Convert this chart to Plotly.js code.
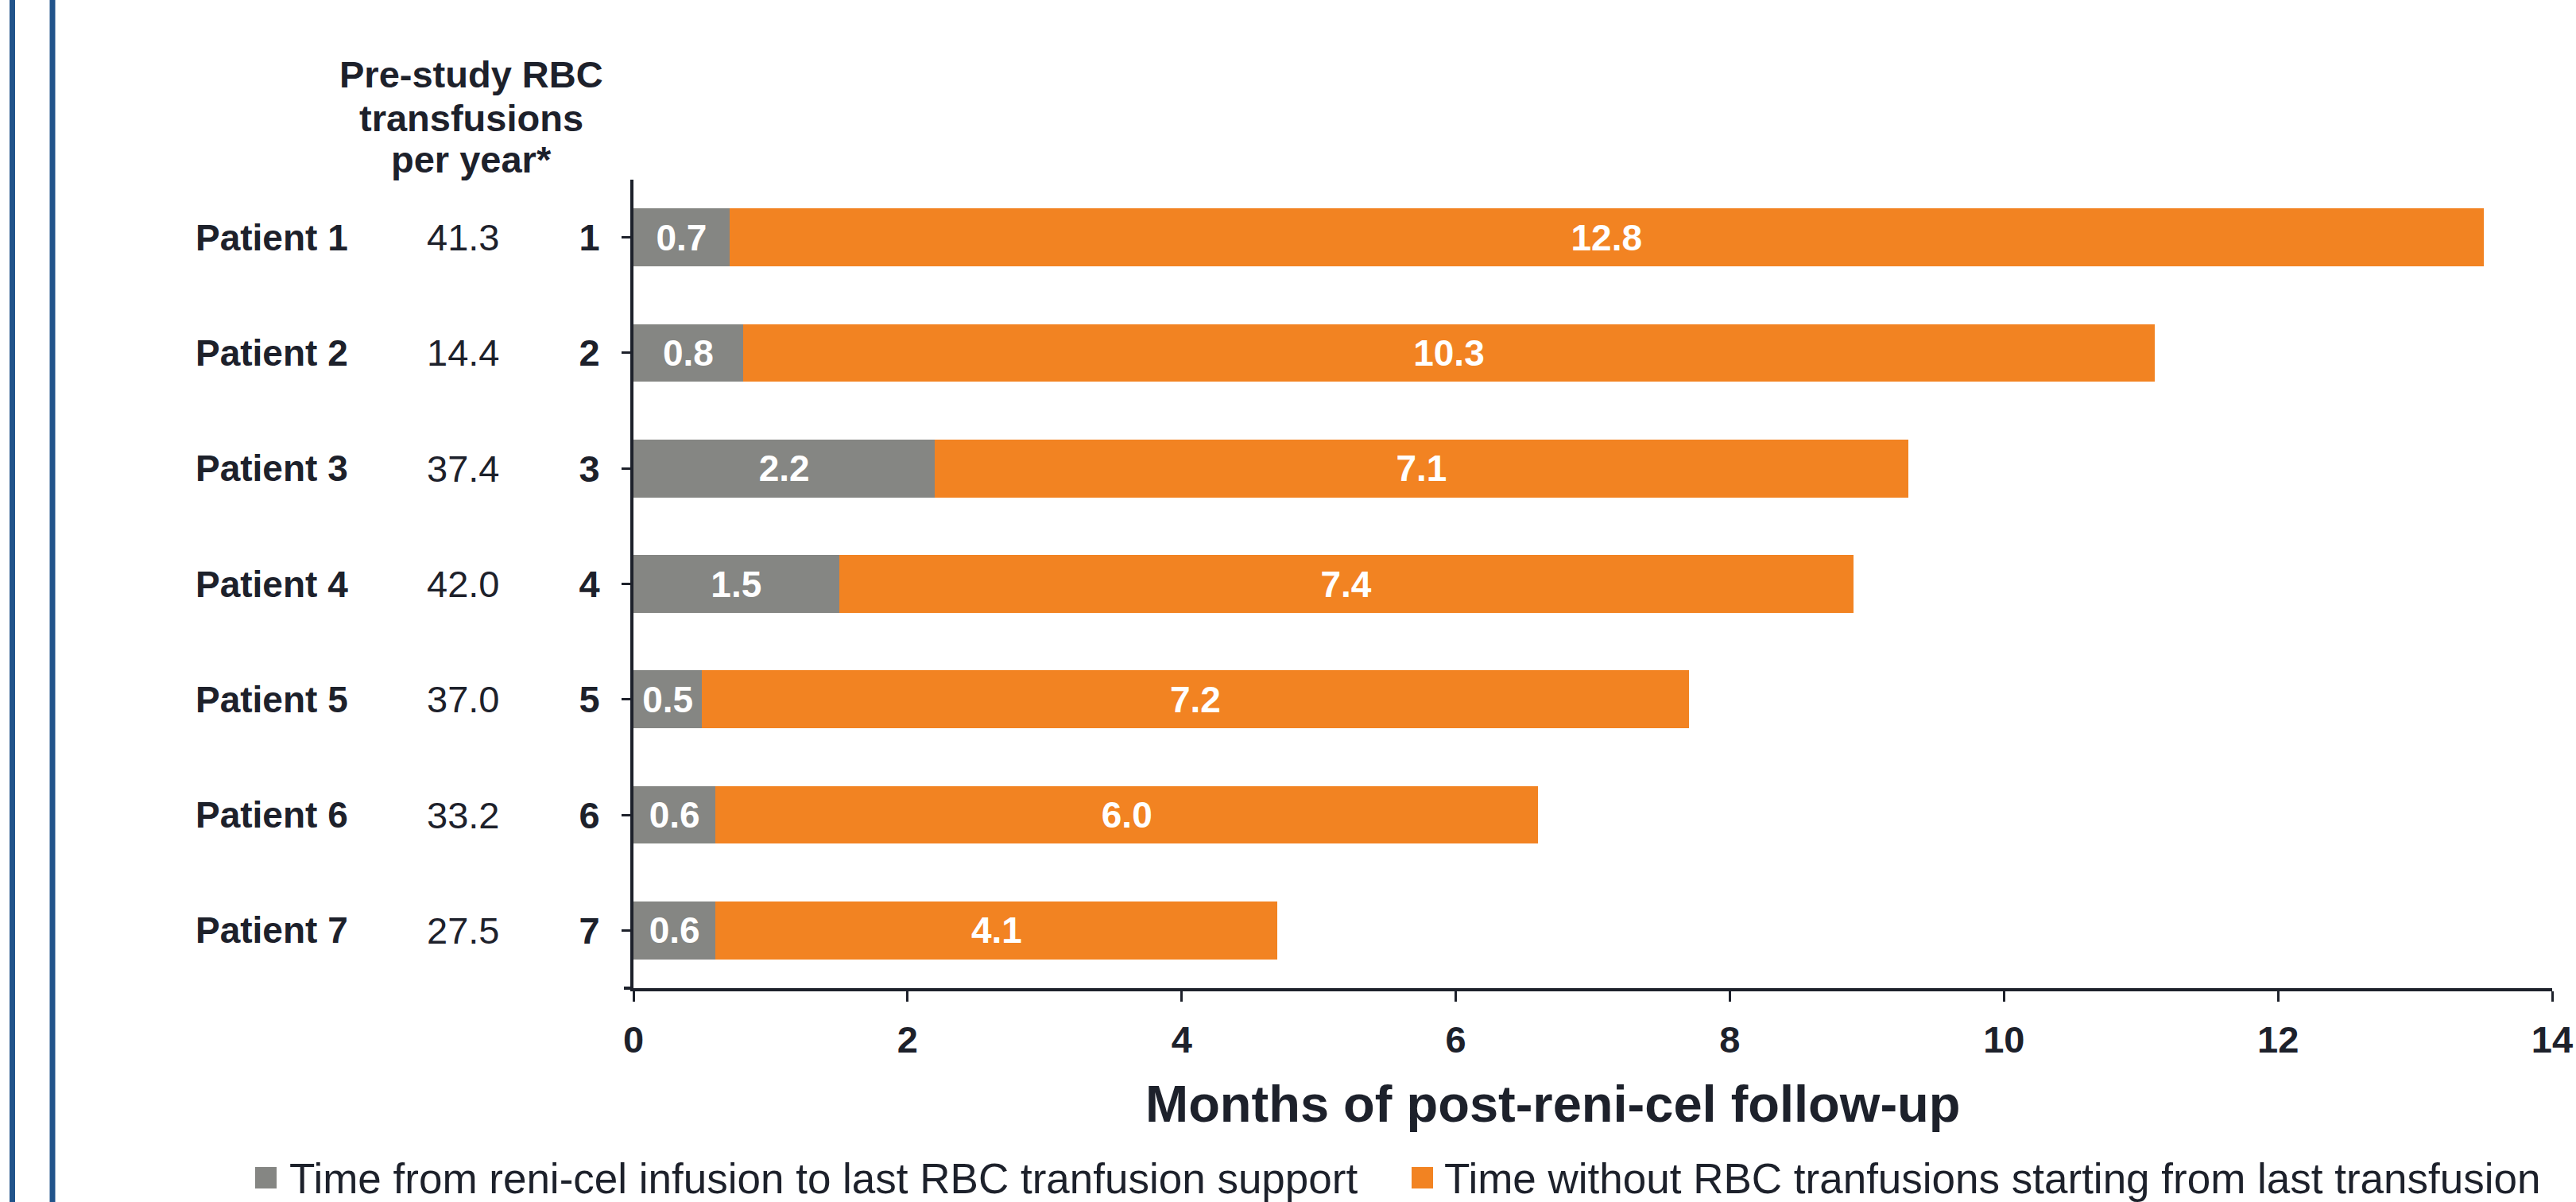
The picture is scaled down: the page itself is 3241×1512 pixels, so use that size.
<!DOCTYPE html>
<html>
<head>
<meta charset="utf-8">
<script src="https://cdn.plot.ly/plotly-3.0.1.min.js"></script>
<style>
  html, body { margin: 0; padding: 0; background: #ffffff; }
  #chart { width: 3241px; height: 1512px; }
</style>
</head>
<body>
<div id="chart"></div>
<script>
// ---------------- data ----------------
const patientIds = ['1', '2', '3', '4', '5', '6', '7'];
const patientNames = ['Patient 1', 'Patient 2', 'Patient 3', 'Patient 4', 'Patient 5', 'Patient 6', 'Patient 7'];
const preStudyTransfusions = [41.3, 14.4, 37.4, 42.0, 37.0, 33.2, 27.5];
const timeToLastTransfusion = [0.7, 0.8, 2.2, 1.5, 0.5, 0.6, 0.6];
const timeWithoutTransfusion = [12.8, 10.3, 7.1, 7.4, 7.2, 6.0, 4.1];
const seriesNames = [
  'Time from reni-cel infusion to last RBC tranfusion support',
  'Time without RBC tranfusions starting from last transfusion'
];
const headerLines = ['Pre-study RBC', 'transfusions', 'per year*'];
const xAxisTitle = 'Months of post-reni-cel follow-up';
const xTickValues = [0, 2, 4, 6, 8, 10, 12, 14];

// ---------------- style ----------------
const W = 3241, H = 1512;
const M = { l: 797, r: 30, t: 226, b: 269 };
const PW = W - M.l - M.r, PH = H - M.t - M.b;
const px2x = p => (p - M.l) / PW;
const px2y = p => (H - M.b - p) / PH;

const FONT = 'Liberation Sans, Arial, sans-serif';
const INK = '#1d212b';
const GREY = '#858683';
const ORANGE = '#f28322';
const BLUE = '#22548b';

const traces = [
  {
    type: 'bar', orientation: 'h', name: seriesNames[0],
    y: patientIds, x: timeToLastTransfusion,
    marker: { color: GREY },
    texttemplate: '%{x:.1f}', textposition: 'inside', insidetextanchor: 'middle',
    constraintext: 'none',
    textfont: { family: FONT, size: 46, color: '#ffffff', weight: 'bold' },
    hoverinfo: 'skip', showlegend: false
  },
  {
    type: 'bar', orientation: 'h', name: seriesNames[1],
    y: patientIds, x: timeWithoutTransfusion,
    marker: { color: ORANGE },
    texttemplate: '%{x:.1f}', textposition: 'inside', insidetextanchor: 'middle',
    constraintext: 'none',
    textfont: { family: FONT, size: 46, color: '#ffffff', weight: 'bold' },
    hoverinfo: 'skip', showlegend: false
  }
];

const annotations = [];
// left columns (positioned on the category axis by category index)
patientIds.forEach((id, i) => {
  annotations.push({
    xref: 'paper', yref: 'y', x: px2x(342), y: i, xanchor: 'center', yanchor: 'middle',
    text: patientNames[i], showarrow: false,
    font: { family: FONT, size: 46, color: INK, weight: 'bold' }
  });
  annotations.push({
    xref: 'paper', yref: 'y', x: px2x(582), y: i, xanchor: 'center', yanchor: 'middle',
    text: preStudyTransfusions[i].toFixed(1), showarrow: false,
    font: { family: FONT, size: 47, color: INK }
  });
});
// header
const headerY = [94, 148, 201];
headerLines.forEach((t, i) => {
  annotations.push({
    xref: 'paper', yref: 'paper', x: px2x(593), y: px2y(headerY[i]),
    xanchor: 'center', yanchor: 'middle', text: t, showarrow: false,
    font: { family: FONT, size: 47, color: INK, weight: 'bold' }
  });
});
// x axis title
annotations.push({
  xref: 'paper', yref: 'paper', x: px2x(1953), y: px2y(1388),
  xanchor: 'center', yanchor: 'middle', text: xAxisTitle, showarrow: false,
  font: { family: FONT, size: 65, color: INK, weight: 'bold' }
});
// legend text
const legendTextX = [362, 1815];
const legendSquareX = [321, 1776];
const legendColors = [GREY, ORANGE];
const legendY = 1482;
seriesNames.forEach((n, i) => {
  annotations.push({
    xref: 'paper', yref: 'paper', x: px2x(legendTextX[i]), y: px2y(legendY),
    xanchor: 'left', yanchor: 'middle', text: n, showarrow: false,
    font: { family: FONT, size: 53, color: INK }
  });
});

const shapes = [
  // decorative blue frame lines on the left
  { type: 'line', xref: 'paper', yref: 'paper', x0: px2x(15.5), x1: px2x(15.5), y0: px2y(H), y1: px2y(0),
    line: { color: BLUE, width: 7 } },
  { type: 'line', xref: 'paper', yref: 'paper', x0: px2x(66), x1: px2x(66), y0: px2y(H), y1: px2y(0),
    line: { color: BLUE, width: 7 } },
  // small y tick at the bottom boundary of the category axis
  { type: 'line', xref: 'paper', yref: 'paper', x0: px2x(785), x1: px2x(797), y0: 0, y1: 0,
    line: { color: INK, width: 4 } }
];
seriesNames.forEach((n, i) => {
  shapes.push({
    type: 'rect', xref: 'paper', yref: 'paper',
    x0: px2x(legendSquareX[i]), x1: px2x(legendSquareX[i] + 27),
    y0: px2y(legendY + 13), y1: px2y(legendY - 14),
    fillcolor: legendColors[i], line: { width: 0 }
  });
});

const layout = {
  width: W, height: H,
  margin: M,
  paper_bgcolor: '#ffffff', plot_bgcolor: '#ffffff',
  barmode: 'stack', bargap: 0.5,
  showlegend: false,
  font: { family: FONT, color: INK },
  xaxis: {
    range: [0, 14], tickvals: xTickValues, ticktext: xTickValues.map(String),
    showgrid: false, zeroline: false,
    showline: true, linecolor: INK, linewidth: 4,
    ticks: 'outside', ticklen: 13, tickwidth: 3, tickcolor: INK,
    tickfont: { family: FONT, size: 47, color: INK, weight: 'bold' },
    ticklabelstandoff: 8
  },
  yaxis: {
    type: 'category', categoryorder: 'array', categoryarray: patientIds,
    range: [6.5, -0.5],
    showgrid: false, zeroline: false,
    showline: true, linecolor: INK, linewidth: 4,
    ticks: 'outside', ticklen: 11, tickwidth: 3, tickcolor: INK,
    tickfont: { family: FONT, size: 47, color: INK, weight: 'bold' },
    ticklabelstandoff: 18
  },
  annotations: annotations,
  shapes: shapes
};

Plotly.newPlot('chart', traces, layout, { staticPlot: true, displayModeBar: false });
</script>
</body>
</html>
